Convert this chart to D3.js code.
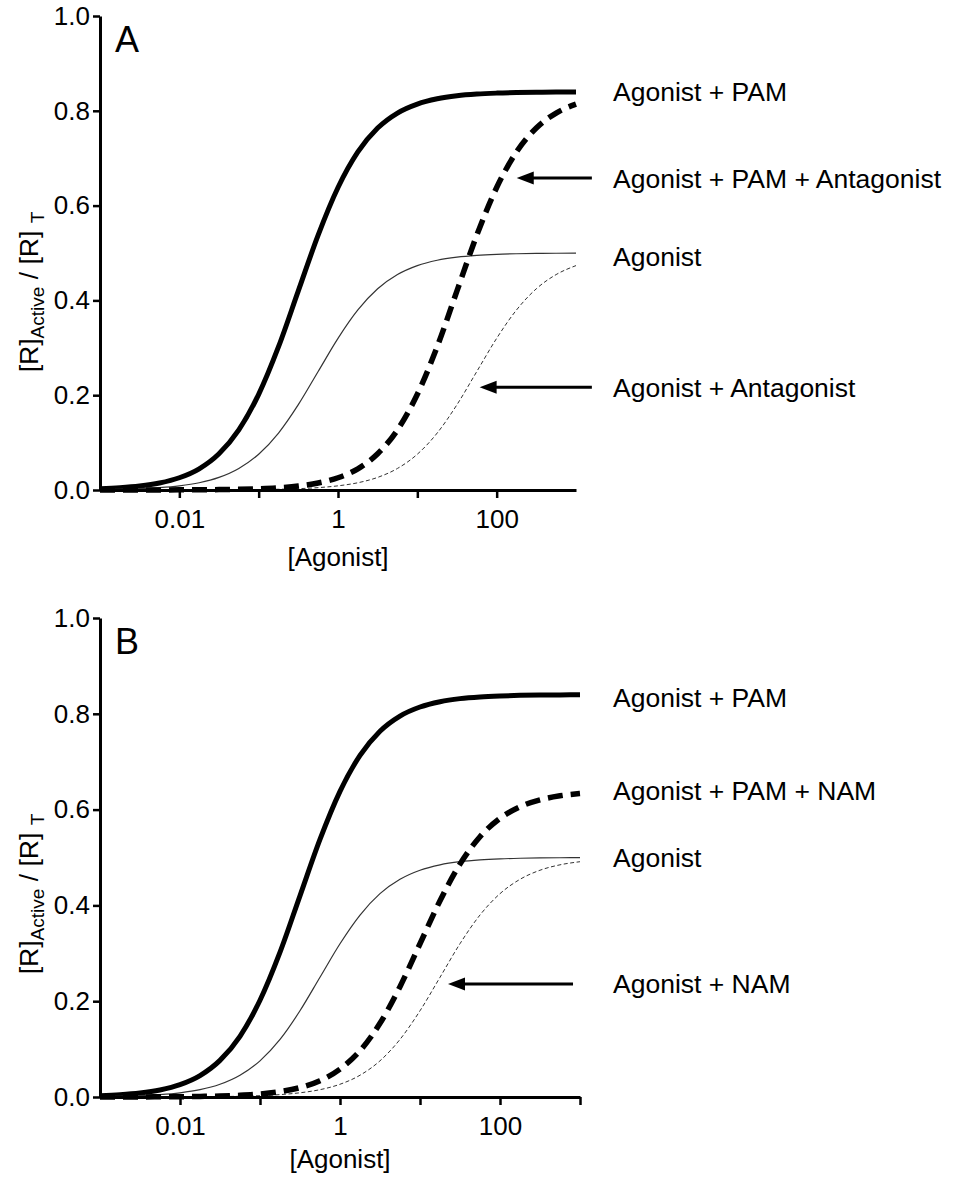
<!DOCTYPE html>
<html>
  <head>
    <title>Allosteric modulation curves</title>
    <script src="https://d3js.org/d3.v7.min.js"></script>
    <style>
      body {
        margin: 0;
        background: #fff;
      }
      text {
        font-family: "Liberation Sans", Arial, Helvetica, sans-serif;
        fill: #000;
      }
    </style>
  </head>
  <body>
    <div id="chart"></div>
    <script>
      // agonist concentrations (quarter-decade steps)
      const doses = [
        0.001, 0.00178, 0.00316, 0.00562, 0.01, 0.0178, 0.0316, 0.0562, 0.1,
        0.178, 0.316, 0.562, 1, 1.78, 3.16, 5.62, 10, 17.8, 31.6, 56.2, 100,
        178, 316, 562, 1000,
      ];

      // [R]active / [R]T
      const agonistPam = [
        0.0027, 0.0047, 0.0083, 0.0147, 0.0258, 0.0447, 0.0764, 0.1268, 0.2019,
        0.3023, 0.42, 0.5377, 0.6381, 0.7132, 0.7636, 0.7953, 0.8142, 0.8253,
        0.8317, 0.8353, 0.8373, 0.8385, 0.8392, 0.8395, 0.8397,
      ];
      const agonistOnly = [
        0.0009, 0.0016, 0.0028, 0.005, 0.0088, 0.0153, 0.0266, 0.0455, 0.0755,
        0.1202, 0.18, 0.25, 0.32, 0.3799, 0.4245, 0.4545, 0.4734, 0.4847,
        0.4912, 0.495, 0.4972, 0.4984, 0.4991, 0.4995, 0.4997,
      ];
      const agonistPamAntagonist = [
        0.0, 0.0, 0.0001, 0.0002, 0.0003, 0.0005, 0.0008, 0.0015, 0.0027,
        0.0047, 0.0083, 0.0147, 0.0258, 0.0447, 0.0764, 0.1268, 0.2019, 0.3023,
        0.42, 0.5377, 0.6381, 0.7132, 0.7636, 0.7953, 0.8142,
      ];
      const agonistAntagonist = [
        0.0, 0.0, 0.0, 0.0, 0.0001, 0.0002, 0.0003, 0.0005, 0.0009, 0.0016,
        0.0028, 0.005, 0.0088, 0.0153, 0.0266, 0.0455, 0.0755, 0.1202, 0.18,
        0.25, 0.32, 0.3799, 0.4245, 0.4545, 0.4734,
      ];
      const agonistPamNam = [
        0.0001, 0.0001, 0.0002, 0.0004, 0.0006, 0.0012, 0.002, 0.0036, 0.0063,
        0.0112, 0.0196, 0.034, 0.0582, 0.0966, 0.1538, 0.2303, 0.32, 0.4097,
        0.4862, 0.5434, 0.5818, 0.606, 0.6204, 0.6288, 0.6337,
      ];
      const agonistNam = [
        0.0, 0.0, 0.0001, 0.0002, 0.0003, 0.0005, 0.0009, 0.0016, 0.0028, 0.005,
        0.0088, 0.0153, 0.0266, 0.0455, 0.0755, 0.1202, 0.18, 0.25, 0.32,
        0.3799, 0.4245, 0.4545, 0.4734, 0.4847, 0.4912,
      ];

      const yTicks = [0, 0.2, 0.4, 0.6, 0.8, 1.0];
      const xTicksA = [0.01, 0.1, 1, 10, 100];
      const xTicksB = [0.01, 0.1, 1, 10, 100, 1000];
      const xLabelled = [0.01, 1, 100];

      const labelsA = [
        "Agonist + PAM",
        "Agonist + PAM + Antagonist",
        "Agonist",
        "Agonist + Antagonist",
      ];
      const labelYA = [0.84, 0.658, 0.492, 0.217];
      const labelsB = [
        "Agonist + PAM",
        "Agonist + PAM + NAM",
        "Agonist",
        "Agonist + NAM",
      ];
      const labelYB = [0.835, 0.641, 0.501, 0.236];

      // arrows: [level, tip dose, tail dose]
      const arrowsA = [
        [0.658, 179, 1585],
        [0.217, 61, 1585],
      ];
      const arrowsB = [[0.236, 22.4, 818]];

      const width = 977,
        height = 1184;

      const svg = d3
        .select("#chart")
        .append("svg")
        .attr("width", width)
        .attr("height", height);

      const styles = {
        pam: { w: 5, dash: null, color: "#000" },
        pamMod: { w: 5.5, dash: "15,8", color: "#000" },
        ago: { w: 1.2, dash: null, color: "#333" },
        agoMod: { w: 1, dash: "4,2.5", color: "#333" },
      };

      function drawPanel(p) {
        const g = svg.append("g");
        const x = d3
          .scaleLog()
          .domain([0.001, 1000])
          .range([p.left, p.right]);
        const y = d3.scaleLinear().domain([0, 1]).range([p.bottom, p.top]);

        // curves
        const line = d3
          .line()
          .x((d) => x(d[0]))
          .y((d) => y(d[1]))
          .curve(d3.curveMonotoneX);

        p.series.forEach((s) => {
          const st = styles[s.style];
          g.append("path")
            .datum(doses.map((d, i) => [d, s.values[i]]))
            .attr("fill", "none")
            .attr("stroke", st.color)
            .attr("stroke-width", st.w)
            .attr("stroke-dasharray", st.dash)
            .attr("d", line);
        });

        // Y axis
        const yAxis = g
          .append("g")
          .attr("transform", `translate(${p.left},0)`)
          .call(
            d3
              .axisLeft(y)
              .tickValues(yTicks)
              .tickFormat(d3.format(".1f"))
              .tickSize(7)
              .tickSizeOuter(0)
              .tickPadding(3)
          );

        // X axis
        const xAxis = g
          .append("g")
          .attr("transform", `translate(0,${p.bottom})`)
          .call(
            d3
              .axisBottom(x)
              .tickValues(p.xTicks)
              .tickFormat((d) => (xLabelled.includes(d) ? d3.format("~g")(d) : ""))
              .tickSize(8)
              .tickSizeOuter(0)
              .tickPadding(12)
          );

        [yAxis, xAxis].forEach((a) => {
          a.select(".domain").attr("stroke-width", 3);
          a.selectAll(".tick line").attr("stroke-width", 2.5);
          a.selectAll(".tick text")
            .style("font-size", "26px")
            .attr("font-family", null);
        });

        // panel letter
        g.append("text")
          .attr("x", p.left + 15)
          .attr("y", p.top + 36)
          .style("font-size", "36px")
          .text(p.letter);

        // x label
        g.append("text")
          .attr("x", x(1))
          .attr("y", p.bottom + p.xLabelGap)
          .attr("text-anchor", "middle")
          .style("font-size", "26px")
          .text("[Agonist]");

        // y label
        const yl = g
          .append("text")
          .attr("transform", `translate(38,${p.top + 276}) rotate(-90)`)
          .attr("text-anchor", "middle")
          .style("font-size", "26.5px");
        yl.append("tspan").text("[R]");
        yl.append("tspan").attr("dy", 6).style("font-size", "19px").text("Active");
        yl.append("tspan").attr("dy", -6).text(" / [R] ");
        yl.append("tspan").attr("dy", 6).style("font-size", "19px").text("T");

        // series labels
        p.labels.forEach((t, i) => {
          g.append("text")
            .attr("x", p.left + 513)
            .attr("y", y(p.labelY[i]))
            .attr("dy", "0.36em")
            .style("font-size", "26.5px")
            .text(t);
        });

        // arrows
        p.arrows.forEach((a) => {
          const yy = y(a[0]),
            tip = x(a[1]),
            tail = x(a[2]);
          g.append("line")
            .attr("x1", tail)
            .attr("x2", tip + 12)
            .attr("y1", yy)
            .attr("y2", yy)
            .attr("stroke", "#000")
            .attr("stroke-width", 3);
          g.append("path")
            .attr(
              "d",
              `M${tip},${yy} L${tip + 17},${yy - 6.5} L${tip + 17},${yy + 6.5} Z`
            )
            .attr("fill", "#000");
        });
      }

      drawPanel({
        letter: "A",
        left: 100,
        right: 576,
        top: 16,
        bottom: 490,
        xLabelGap: 76,
        xTicks: xTicksA,
        series: [
          { values: agonistPam, style: "pam" },
          { values: agonistOnly, style: "ago" },
          { values: agonistAntagonist, style: "agoMod" },
          { values: agonistPamAntagonist, style: "pamMod" },
        ],
        labels: labelsA,
        labelY: labelYA,
        arrows: arrowsA,
      });

      drawPanel({
        letter: "B",
        left: 100,
        right: 580,
        top: 618,
        bottom: 1097,
        xLabelGap: 71,
        xTicks: xTicksB,
        series: [
          { values: agonistPam, style: "pam" },
          { values: agonistOnly, style: "ago" },
          { values: agonistNam, style: "agoMod" },
          { values: agonistPamNam, style: "pamMod" },
        ],
        labels: labelsB,
        labelY: labelYB,
        arrows: arrowsB,
      });
    </script>
  </body>
</html>
